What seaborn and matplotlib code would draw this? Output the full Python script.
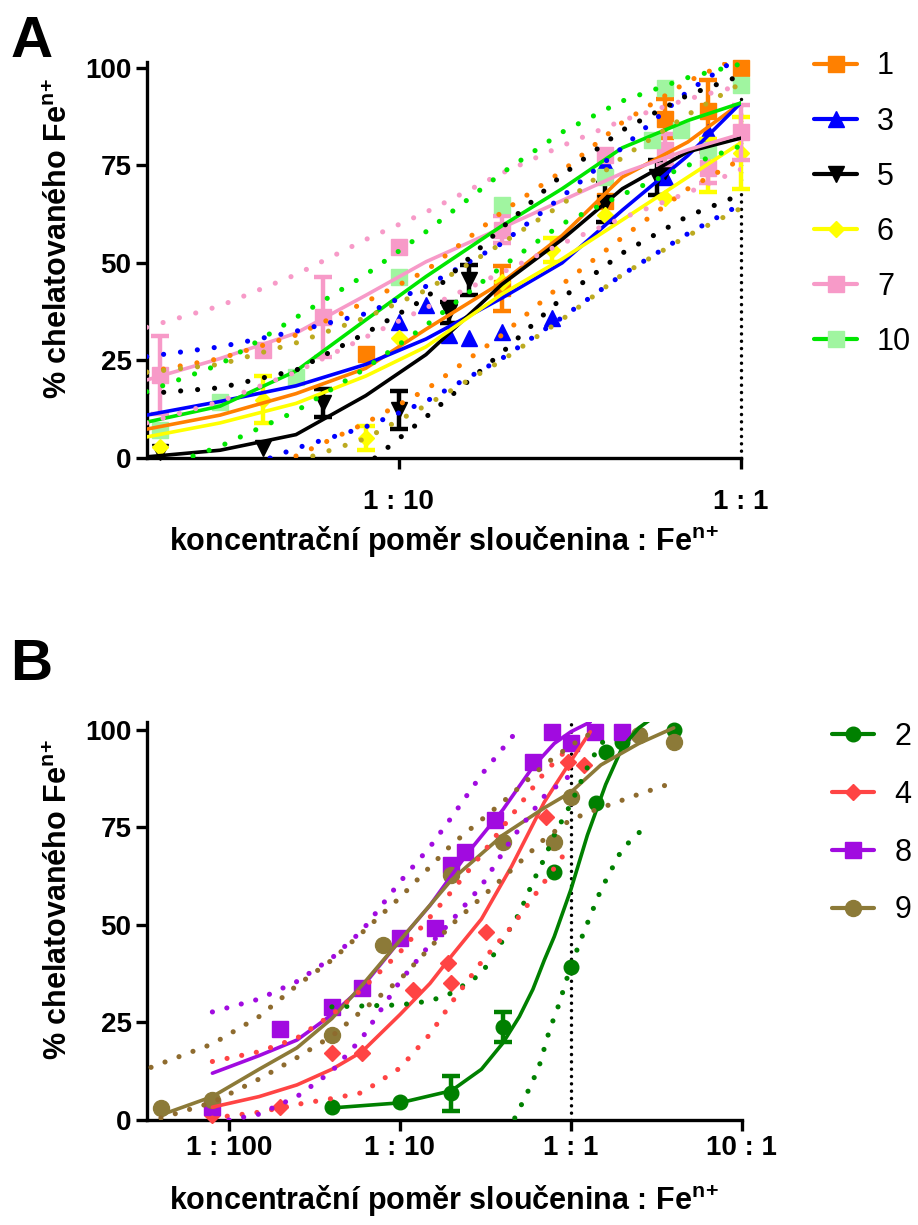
import numpy as np
import matplotlib
matplotlib.use("Agg")
import matplotlib.pyplot as plt
from matplotlib.lines import Line2D
from matplotlib.ticker import NullLocator
import seaborn as sns

# ==============================
# Panel A - measured points (ratio, % chelated, error)
# ==============================
a1_x = [0.08, 0.2, 0.4, 0.6, 0.8, 1.0]
a1_y = [26.7, 43.5, 66, 87, 89, 100]
a1_err = [0, 5.8, 0, 5, 8, 0]

a3_x = [0.1, 0.12, 0.14, 0.16, 0.2, 0.28, 0.4, 0.6, 0.8]
a3_y = [34.9, 39.2, 31.5, 30.8, 32.3, 35.9, 75.6, 72, 83.6]
a3_err = [0, 0, 0, 0, 0, 0, 0, 0, 0]

a5_x = [0.02, 0.04, 0.06, 0.1, 0.14, 0.16, 0.4, 0.57, 0.6]
a5_y = [1.5, 2.6, 14.1, 12.3, 37.4, 45.6, 65.4, 72, 73.5]
a5_err = [0, 0, 3.6, 4.9, 2.7, 3.9, 5, 4.5, 0]

a6_x = [0.02, 0.04, 0.08, 0.1, 0.2, 0.28, 0.4, 0.6, 0.8, 1.0]
a6_y = [2.8, 14.9, 5.1, 30.8, 45, 53.3, 62.3, 66.7, 75, 78.2]
a6_err = [0, 6, 3, 0, 0, 3, 0, 0, 6.8, 9.3]

a7_x = [0.02, 0.04, 0.06, 0.1, 0.2, 0.4, 0.6, 0.8, 1.0]
a7_y = [21.3, 27.7, 36.2, 54, 58.5, 77.7, 79, 74.4, 83.5]
a7_err = [10, 0, 10.3, 0, 3.5, 0, 4, 4, 7]

a10_x = [0.02, 0.03, 0.05, 0.1, 0.2, 0.4, 0.55, 0.6, 0.67, 0.8, 1.0]
a10_y = [7.2, 14.4, 20.8, 46.4, 64.9, 72, 81.5, 94.9, 84, 79, 95.6]
a10_err = [0, 0, 0, 0, 0, 0, 0, 0, 0, 0, 0]

# fitted curves of panel A, read at these ratios
a_fit_x = [0.0183, 0.03, 0.05, 0.08, 0.12, 0.2, 0.3, 0.45, 0.7, 1.0]
a1_fit = [7.4, 11, 16.5, 23, 33, 45, 57, 72, 81, 91]
a3_fit = [11, 14.5, 18.5, 24, 30.5, 41, 50, 63.5, 77.5, 91]
a5_fit = [0.3, 2, 6, 16, 26.5, 44.5, 56, 69, 78.5, 82]
a6_fit = [5.4, 9, 14, 21, 28.5, 42, 51, 61, 72, 80.8]
a7_fit = [20, 25.5, 32, 41.7, 50.3, 59, 66, 73, 79, 83]
a10_fit = [9.2, 13.3, 22.3, 35.4, 46.5, 59.5, 69, 79.5, 86.5, 91]

# confidence bands of panel A (upper bands on a_fit_x)
a1_hi = [22, 25.5, 31.5, 40, 48, 63, 73.5, 86, 96.5, 103]
a3_hi = [26, 28.5, 32.5, 37, 44, 55, 67, 79.5, 94, 103]
a5_hi = [16.5, 18, 22.5, 32, 41, 59, 72.5, 84, 93, 98]
a6_hi = [22, 24, 29.5, 36, 43, 55, 65, 77, 88, 96]
a7_hi = [33.5, 39, 47, 56, 63, 73, 80, 86.5, 92, 95.5]
a10_hi = [17, 24, 36, 47, 58, 73, 83.5, 91.5, 97.5, 101]
a7_lo = [9, 14.5, 22, 31, 38.5, 47.5, 55, 61.5, 68, 74]

a1_lo_x = [0.05, 0.08, 0.12, 0.2, 0.3, 0.45, 0.7, 1.0]
a1_lo = [0.5, 9, 17.5, 31.5, 44.5, 56.5, 69, 76.5]
a3_lo_x = [0.042, 0.05, 0.08, 0.12, 0.2, 0.3, 0.45, 0.7, 1.0]
a3_lo = [0, 2.5, 8, 14.5, 25.5, 36, 47, 57.5, 65]
a5_lo_x = [0.085, 0.1, 0.12, 0.2, 0.3, 0.45, 0.7, 1.0]
a5_lo = [0, 5, 10.5, 27, 41, 52.5, 62, 67.5]
a6_lo_x = [0.056, 0.08, 0.12, 0.2, 0.3, 0.45, 0.7, 1.0]
a6_lo = [0.5, 5, 13.5, 25, 35.5, 47, 57, 64]
a10_lo_x = [0.025, 0.03, 0.05, 0.08, 0.12, 0.2, 0.3, 0.45, 0.7, 1.0]
a10_lo = [0.5, 3, 12, 23, 34, 49, 60, 67.5, 75, 80]

# ==============================
# Panel B
# ==============================
b2_x = [0.04, 0.1, 0.2, 0.4, 0.8, 1.0, 1.4, 1.6, 2.0, 4.0]
b2_y = [3.4, 4.6, 6.9, 23.8, 63.6, 39.2, 81.3, 94.4, 97, 100]
b2_err = [0, 0, 4.5, 3.8, 0, 0, 0, 0, 0, 0]

b4_x = [0.008, 0.02, 0.04, 0.06, 0.12, 0.19, 0.2, 0.32, 0.72, 0.96, 1.2]
b4_y = [1.3, 3.4, 17.2, 17.2, 33.3, 40.3, 35.1, 48.2, 77.7, 91.8, 91]
b4_err = [0] * 11

b8_x = [0.008, 0.02, 0.04, 0.06, 0.1, 0.16, 0.2, 0.24, 0.36, 0.6, 0.78, 1.0, 1.38, 2.0]
b8_y = [3.4, 23.3, 29, 33.8, 46.7, 49.2, 65.4, 68.7, 76.9, 91.8, 99.5, 96.7, 99.5, 99.5]
b8_err = [0] * 14

b9_x = [0.004, 0.008, 0.04, 0.08, 0.2, 0.4, 0.8, 1.0, 2.5, 4.0]
b9_y = [3.1, 5.1, 21.8, 44.9, 62.8, 71.3, 71.3, 82.8, 98.7, 97]
b9_err = [0] * 10

b2_fit_x = [0.04, 0.1, 0.2, 0.3, 0.4, 0.5, 0.6, 0.7, 0.8, 1.0, 1.25, 1.6, 2.0, 2.5, 3.0]
b2_fit = [3.1, 4.4, 7.5, 13, 19.7, 26.5, 33.5, 41, 47, 59, 73, 86, 95.5, 100.5, 103]
b2_hi_x = [0.04, 0.1, 0.15, 0.2, 0.3, 0.4, 0.5, 0.6, 0.7, 0.8, 1.0, 1.3, 1.6]
b2_hi = [29, 29.5, 30.5, 32.5, 37.5, 46, 53, 61, 67, 73, 81, 92, 98]
b2_lo_x = [0.47, 0.55, 0.65, 0.75, 0.85, 1.0, 1.2, 1.5, 2.0, 2.7]
b2_lo = [0.5, 6.5, 13.5, 23, 29.5, 39.5, 48.5, 59, 69.5, 75]

b4_fit_x = [0.008, 0.015, 0.025, 0.04, 0.06, 0.1, 0.15, 0.2, 0.3, 0.45, 0.7, 1.0, 1.3]
b4_fit = [3.3, 6, 9, 13, 17.5, 27, 35, 42, 51.5, 65, 81.5, 92, 99.5]
b4_band_x = [0.008, 0.015, 0.025, 0.04, 0.06, 0.1, 0.15, 0.2, 0.3, 0.45, 0.7, 1.0]
b4_hi = [15, 17.5, 21, 27, 33.5, 43, 52, 58.5, 68, 78, 89, 96]
b4_lo = [0.5, 2, 4, 5.5, 7, 13.3, 22, 30, 40.5, 49.5, 61, 70.5]

b8_fit_x = [0.008, 0.015, 0.025, 0.04, 0.06, 0.1, 0.15, 0.25, 0.4, 0.6, 0.8, 1.0, 1.3]
b8_fit = [12, 16.5, 20.5, 27, 34, 46, 55, 68.5, 79.5, 90.5, 96.5, 99.5, 102]
b8_hi_x = [0.008, 0.015, 0.025, 0.04, 0.06, 0.1, 0.15, 0.2, 0.3, 0.45, 0.5]
b8_hi = [27.7, 31, 35.5, 41.5, 48.5, 61, 70, 77.5, 88.5, 98, 100.5]
b8_lo_x = [0.01, 0.015, 0.025, 0.04, 0.06, 0.1, 0.15, 0.2, 0.3, 0.45, 0.7, 1.0]
b8_lo = [0, 1.5, 6, 12.5, 21, 35.5, 45, 51, 60, 72, 83, 88.5]

b9_fit_x = [0.004, 0.008, 0.015, 0.025, 0.04, 0.06, 0.1, 0.2, 0.4, 0.7, 1.0, 1.5, 2.5, 4.0]
b9_fit = [1.3, 6, 13, 18.5, 26, 34.5, 46, 61.5, 73, 80, 84, 91, 96.5, 100.5]
b9_hi_x = [0.0035, 0.008, 0.015, 0.025, 0.04, 0.06, 0.1, 0.2, 0.4, 0.7, 1.0, 1.3]
b9_hi = [13.5, 19.5, 26.5, 34.5, 41, 48, 57, 70.5, 81.5, 91, 96, 99]
b9_lo = [0.5, 4.5, 10.5, 16, 21.5, 28, 36, 50, 62, 72, 77, 80, 83.5, 86.5]

ref_ratio = 1.0
a_ticks = [0.1, 1.0]
a_tick_labels = ['1 : 10', '1 : 1']
b_ticks = [0.01, 0.1, 1.0, 10.0]
b_tick_labels = ['1 : 100', '1 : 10', '1 : 1', '10 : 1']
y_ticks = [0, 25, 50, 75, 100]

# ==============================
# Style
# ==============================
sns.set_theme(style="ticks", rc={'axes.edgecolor': 'black', 'xtick.color': 'black',
                                 'ytick.color': 'black', 'text.color': 'black',
                                 'axes.labelcolor': 'black'})
plt.rcParams['font.family'] = ['Liberation Sans', 'DejaVu Sans']
plt.rcParams['font.weight'] = 'bold'
plt.rcParams['axes.labelweight'] = 'bold'
plt.rcParams['mathtext.fontset'] = 'custom'
plt.rcParams['mathtext.rm'] = 'Liberation Sans:bold'
plt.rcParams['mathtext.bf'] = 'Liberation Sans:bold'
plt.rcParams['mathtext.default'] = 'bf'

DOT_A = (0, (0.01, 3.3))
DOT_B = (0, (0.01, 2.9))
LABEL_X = 'koncentrační poměr sloučenina : Fe$^{n\\!+}$'
LABEL_Y = '% chelatovaného Fe$^{n\\!+}$'


def band(ax, x, y, color, dots):
    sns.lineplot(x=x, y=y, ax=ax, color=color, lw=3.7, linestyle=dots,
                 dash_capstyle='round', estimator=None, sort=False, zorder=5)


def curve(ax, x, y, color):
    sns.lineplot(x=x, y=y, ax=ax, color=color, lw=2.6, estimator=None,
                 sort=False, zorder=4)


def points(ax, x, y, err, marker, ms, color):
    x = np.asarray(x, float)
    y = np.asarray(y, float)
    err = np.asarray(err, float)
    m = err > 0
    if m.any():
        ax.errorbar(x[m], y[m], yerr=err[m], fmt='none', ecolor=color,
                    elinewidth=3.2, capsize=6.5, capthick=3.2, zorder=3, clip_on=False)
    ax.plot(x, y, ls='none', marker=marker, ms=ms, color=color, mec=color,
            zorder=3, clip_on=False)


fig = plt.figure(figsize=(9.18, 12.25), dpi=100)
axA = fig.add_axes([0.160, 0.6261, 0.647, 0.3233])
axB = fig.add_axes([0.160, 0.0857, 0.648, 0.3249])

for ax in (axA, axB):
    ax.set_xscale('log')
    ax.set_facecolor('white')

# ---------- panel A ----------
ORANGE, BLUE, BLACK, YELLOW, OLIVE_A = '#FF8000', '#0000FF', '#000000', '#FFFF00', '#BCAA20'
PINK, PALEGREEN, BRIGHTGREEN = '#F79AC8', '#A0F5A0', '#00E600'

axA.axvline(ref_ratio, color='black', lw=2.5, ls=(0, (0.01, 2.1)),
            dash_capstyle='round', zorder=1, clip_on=False)

points(axA, a1_x, a1_y, a1_err, 's', 11, ORANGE)
points(axA, a3_x, a3_y, a3_err, '^', 11, BLUE)
points(axA, a5_x, a5_y, a5_err, 'v', 11, BLACK)
points(axA, a6_x, a6_y, a6_err, 'D', 8, YELLOW)
points(axA, a7_x, a7_y, a7_err, 's', 11, PINK)
points(axA, a10_x, a10_y, a10_err, 's', 11, PALEGREEN)

curve(axA, a_fit_x, a1_fit, ORANGE)
curve(axA, a_fit_x, a3_fit, BLUE)
curve(axA, a_fit_x, a5_fit, BLACK)
curve(axA, a_fit_x, a6_fit, YELLOW)
curve(axA, a_fit_x, a7_fit, PINK)
curve(axA, a_fit_x, a10_fit, BRIGHTGREEN)

band(axA, a_fit_x, a1_hi, ORANGE, DOT_A)
band(axA, a1_lo_x, a1_lo, ORANGE, DOT_A)
band(axA, a_fit_x, a3_hi, BLUE, DOT_A)
band(axA, a3_lo_x, a3_lo, BLUE, DOT_A)
band(axA, a_fit_x, a5_hi, BLACK, DOT_A)
band(axA, a5_lo_x, a5_lo, BLACK, DOT_A)
band(axA, a_fit_x, a6_hi, OLIVE_A, DOT_A)
band(axA, a6_lo_x, a6_lo, OLIVE_A, DOT_A)
band(axA, a_fit_x, a7_hi, PINK, DOT_A)
band(axA, a_fit_x, a7_lo, PINK, DOT_A)
band(axA, a_fit_x, a10_hi, BRIGHTGREEN, DOT_A)
band(axA, a10_lo_x, a10_lo, BRIGHTGREEN, DOT_A)

axA.set_xlim(0.01832, 1.0)
axA.set_ylim(0, 101.5)
axA.set_xticks(a_ticks)
axA.set_xticklabels(a_tick_labels)

# ---------- panel B ----------
GREEN, RED, PURPLE, OLIVE, OLIVE_DOT = '#008000', '#FF4444', '#A10BE0', '#8C7A38', '#8E6B2E'

axB.axvline(ref_ratio, color='black', lw=2.5, ls=(0, (0.01, 2.1)),
            dash_capstyle='round', zorder=1)

points(axB, b2_x, b2_y, b2_err, 'o', 10.5, GREEN)
points(axB, b4_x, b4_y, b4_err, 'D', 8.5, RED)
points(axB, b8_x, b8_y, b8_err, 's', 11, PURPLE)
points(axB, b9_x, b9_y, b9_err, 'o', 11.5, OLIVE)

curve(axB, b2_fit_x, b2_fit, GREEN)
curve(axB, b4_fit_x, b4_fit, RED)
curve(axB, b8_fit_x, b8_fit, PURPLE)
curve(axB, b9_fit_x, b9_fit, OLIVE)

band(axB, b2_hi_x, b2_hi, GREEN, DOT_B)
band(axB, b2_lo_x, b2_lo, GREEN, DOT_B)
band(axB, b4_band_x, b4_hi, RED, DOT_B)
band(axB, b4_band_x, b4_lo, RED, DOT_B)
band(axB, b8_hi_x, b8_hi, PURPLE, DOT_B)
band(axB, b8_lo_x, b8_lo, PURPLE, DOT_B)
band(axB, b9_hi_x, b9_hi, OLIVE_DOT, DOT_B)
band(axB, b9_fit_x, b9_lo, OLIVE_DOT, DOT_B)

axB.set_xlim(0.00331, 10.0)
axB.set_ylim(0, 102)
axB.set_xticks(b_ticks)
axB.set_xticklabels(b_tick_labels)

# ---------- common axis styling ----------
for ax in (axA, axB):
    sns.despine(ax=ax)
    for s in ('left', 'bottom'):
        ax.spines[s].set_linewidth(2.4)
    ax.xaxis.set_minor_locator(NullLocator())
    ax.set_yticks(y_ticks)
    ax.tick_params(axis='both', which='major', length=8, width=2.4,
                   labelsize=20, pad=3)
    ax.set_xlabel(LABEL_X, fontsize=22)
    ax.set_ylabel(LABEL_Y, fontsize=22)
    ax.xaxis.set_label_coords(0.5, -0.16)
    ax.yaxis.set_label_coords(-0.122, 0.553)
    ax.grid(False)

axA.tick_params(axis='x', pad=14)
axA.xaxis.set_label_coords(0.5, -0.168)

fig.text(0.011, 0.9535, 'A', fontsize=42, fontweight='bold', va='baseline')
fig.text(0.011, 0.445, 'B', fontsize=42, fontweight='bold', va='baseline')

# ---------- legends ----------
legA = [('1', ORANGE, ORANGE, 's', 11), ('3', BLUE, BLUE, '^', 11),
        ('5', BLACK, BLACK, 'v', 11), ('6', YELLOW, YELLOW, 'D', 8),
        ('7', PINK, PINK, 's', 11), ('10', BRIGHTGREEN, PALEGREEN, 's', 11)]
legB = [('2', GREEN, GREEN, 'o', 10.5), ('4', RED, RED, 'D', 8.5),
        ('8', PURPLE, PURPLE, 's', 11), ('9', OLIVE, OLIVE, 'o', 11.5)]

for entries, anchor, spacing in ((legA, (0.887, 0.958), 0.82),
                                 (legB, (0.906, 0.4106), 0.91)):
    handles = [Line2D([], [], color=lc, lw=3, marker=mk, ms=ms, mfc=mc, mec=mc)
               for _, lc, mc, mk, ms in entries]
    labels = [e[0] for e in entries]
    fig.legend(handles, labels, loc='upper left', bbox_to_anchor=anchor,
               frameon=False, prop={'size': 22, 'weight': 'normal'},
               handlelength=1.4, handletextpad=0.65, labelspacing=spacing,
               borderpad=0, borderaxespad=0)

fig.savefig('out.png', dpi=100, facecolor='white')
